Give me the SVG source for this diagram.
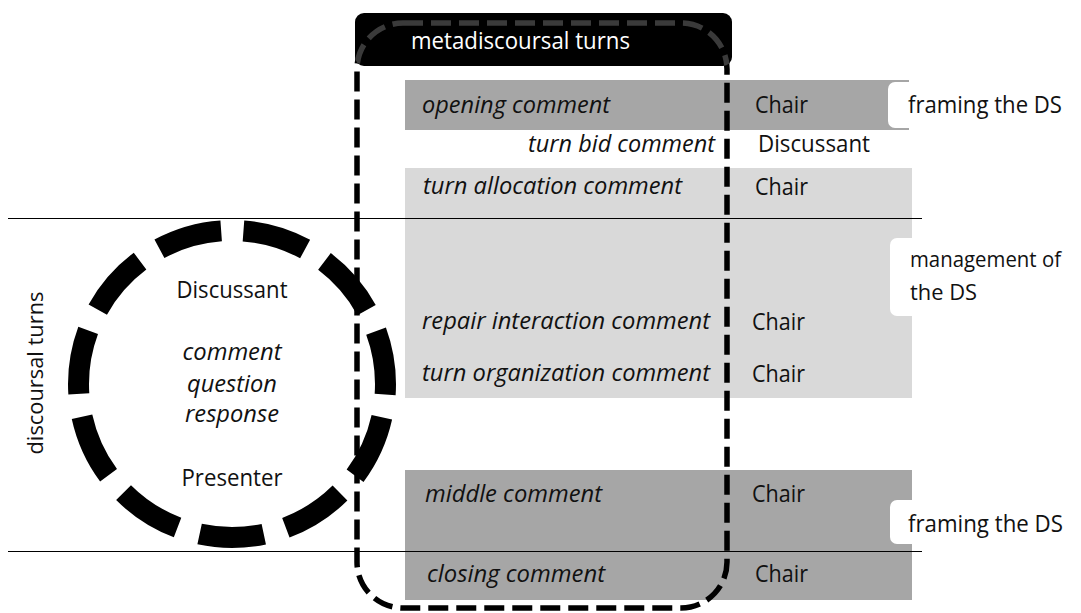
<svg xmlns="http://www.w3.org/2000/svg" width="1081" height="613" viewBox="0 0 1081 613">
<defs>
<clipPath id="hdrClip"><rect x="355" y="13" width="377" height="53" rx="9"/></clipPath>
<style>
text { font-family: "Open Sans", "Liberation Sans", sans-serif; font-size: 24px; fill: #111; }
.it { font-style: italic; }
.mid { text-anchor: middle; }
.end { text-anchor: end; }
.dark { fill: #a6a6a6; }
.light { fill: #d9d9d9; }
.tag { fill: #fff; }
.sep { stroke: #000; stroke-width: 1.2; }
.frame { fill: none; stroke: #000; stroke-width: 5.5; stroke-dasharray: 20 8; }
</style>
</defs>
<rect width="1081" height="613" fill="#fff"/>

<g id="bands">
  <rect id="band-opening" class="dark" x="405" y="80" width="504" height="50"/>
  <rect id="band-management" class="light" x="405" y="168" width="507" height="230"/>
  <rect id="band-closing" class="dark" x="405" y="470" width="507" height="130"/>
</g>

<g id="tags">
  <path class="tag" d="M1081 82 H895 A7 7 0 0 0 888 89 V121 A7 7 0 0 0 895 128 H1081 Z"/>
  <path class="tag" d="M1081 238 H897 A7 7 0 0 0 890 245 V309 A7 7 0 0 0 897 316 H1081 Z"/>
  <path class="tag" d="M1081 500 H897 A7 7 0 0 0 890 507 V537 A7 7 0 0 0 897 544 H1081 Z"/>
</g>

<g id="connectors">
  <line class="sep" x1="8" y1="218.5" x2="922" y2="218.5"/>
  <line class="sep" x1="8" y1="551.5" x2="922" y2="551.5"/>
</g>

<g id="discoursal-cycle">
  <circle cx="232" cy="384" r="153.5" fill="none" stroke="#000" stroke-width="21" stroke-dasharray="64.7 23.0" stroke-dashoffset="76.2" transform="rotate(-90 232 384)"/>
  <text class="mid" x="232" y="298" textLength="111" lengthAdjust="spacingAndGlyphs">Discussant</text>
  <text class="mid it" x="232" y="360" textLength="99" lengthAdjust="spacingAndGlyphs">comment</text>
  <text class="mid it" x="232" y="392" textLength="90" lengthAdjust="spacingAndGlyphs">question</text>
  <text class="mid it" x="232" y="422" textLength="94" lengthAdjust="spacingAndGlyphs">response</text>
  <text class="mid" x="232" y="486" textLength="101" lengthAdjust="spacingAndGlyphs">Presenter</text>
</g>

<g id="discoursal-label">
  <text class="mid" transform="translate(43 373) rotate(-90)" x="0" y="0" style="font-size:22px" textLength="163" lengthAdjust="spacingAndGlyphs">discoursal turns</text>
</g>

<g id="metadiscoursal">
  <rect class="frame" x="357" y="23" width="370" height="585" rx="46"/>
  <rect x="355" y="13" width="377" height="53" rx="9" fill="#000"/>
  <rect class="frame" x="357" y="23" width="370" height="585" rx="46" clip-path="url(#hdrClip)" style="stroke:#3a3a3a"/>
  <text x="411" y="49" style="fill:#fff" textLength="219" lengthAdjust="spacingAndGlyphs">metadiscoursal turns</text>
</g>

<g id="opening">
  <text class="it" x="422" y="113" textLength="188" lengthAdjust="spacingAndGlyphs">opening comment</text>
  <text x="755" y="113" textLength="53" lengthAdjust="spacingAndGlyphs">Chair</text>
</g>
<g id="framing-top">
  <text x="908" y="113" textLength="154" lengthAdjust="spacingAndGlyphs">framing the DS</text>
</g>
<g id="turn-bid">
  <text class="it end" x="715" y="152" textLength="187" lengthAdjust="spacingAndGlyphs">turn bid comment</text>
  <text x="758" y="152" textLength="112" lengthAdjust="spacingAndGlyphs">Discussant</text>
</g>
<g id="turn-allocation">
  <text class="it" x="423" y="194" textLength="259" lengthAdjust="spacingAndGlyphs">turn allocation comment</text>
  <text x="755" y="195" textLength="53" lengthAdjust="spacingAndGlyphs">Chair</text>
</g>
<g id="management">
  <text x="910" y="267" style="font-size:22.5px" textLength="151" lengthAdjust="spacingAndGlyphs">management of</text>
  <text x="910" y="300" style="font-size:22.5px" textLength="67" lengthAdjust="spacingAndGlyphs">the DS</text>
</g>
<g id="repair">
  <text class="it" x="422" y="329" textLength="288" lengthAdjust="spacingAndGlyphs">repair interaction comment</text>
  <text x="752" y="330" textLength="53" lengthAdjust="spacingAndGlyphs">Chair</text>
</g>
<g id="turn-organization">
  <text class="it" x="422" y="381" textLength="288" lengthAdjust="spacingAndGlyphs">turn organization comment</text>
  <text x="752" y="382" textLength="53" lengthAdjust="spacingAndGlyphs">Chair</text>
</g>
<g id="middle">
  <text class="it" x="425" y="502" textLength="177" lengthAdjust="spacingAndGlyphs">middle comment</text>
  <text x="752" y="502" textLength="53" lengthAdjust="spacingAndGlyphs">Chair</text>
</g>
<g id="framing-bottom">
  <text x="908" y="532" textLength="155" lengthAdjust="spacingAndGlyphs">framing the DS</text>
</g>
<g id="closing">
  <text class="it" x="427" y="582" textLength="178" lengthAdjust="spacingAndGlyphs">closing comment</text>
  <text x="755" y="582" textLength="53" lengthAdjust="spacingAndGlyphs">Chair</text>
</g>
</svg>
